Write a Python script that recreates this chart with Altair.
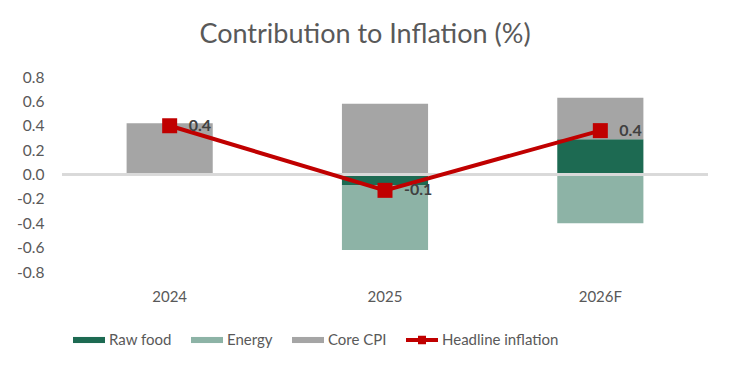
import altair as alt
import pandas as pd

years = ["2024", "2025", "2026F"]
raw_food = [0.01, -0.09, 0.29]
energy = [0.0, -0.53, -0.40]
core_cpi = [0.41, 0.58, 0.34]
headline = [0.40, -0.13, 0.36]
y_ticks = [-0.8, -0.6, -0.4, -0.2, 0.0, 0.2, 0.4, 0.6, 0.8]

series_names = ["Raw food", "Energy", "Core CPI", "Headline inflation"]
series_colors = ["#1D6A52", "#8DB3A6", "#A5A5A5", "#C00000"]

rows = []
for i, y in enumerate(years):
    for k, (name, vals) in enumerate(zip(series_names[:3], [raw_food, energy, core_cpi])):
        rows.append({"year": y, "series": name, "value": vals[i], "rank": k})
bars_df = pd.DataFrame(rows)
line_df = pd.DataFrame({"year": years, "series": "Headline inflation", "value": headline})

FONT = "Lato"
TXT = "#595959"

x_enc = alt.X("year:N", sort=years, title=None,
              scale=alt.Scale(paddingInner=0.6, paddingOuter=0.3),
              axis=alt.Axis(domain=False, ticks=False, labelAngle=0, labelPadding=17,
                            labelFont=FONT, labelFontSize=15, labelColor=TXT))
y_scale = alt.Scale(domain=[-0.8, 0.8], nice=False)
y_axis = alt.Axis(domain=False, ticks=False, grid=False, labelOverlap=False, tickCount=20,
                  values=y_ticks, format=".1f", labelPadding=18,
                  labelExpr="replace(datum.label, '\u2212', '-')",
                  labelFont=FONT, labelFontSize=15.5, labelColor=TXT)

shape_expr = ("datum.value == 'Headline inflation' ? "
              "'M-1,-0.13H-0.25V-0.27H0.25V-0.13H1V0.13H0.25V0.27H-0.25V0.13H-1Z' : "
              "'M-1,-0.19H1V0.19H-1Z'")

color_enc = alt.Color(
    "series:N",
    scale=alt.Scale(domain=series_names, range=series_colors),
    legend=alt.Legend(
        title=None, orient="none", direction="horizontal", columns=4,
        legendX=11, legendY=247,
        symbolSize=1024, symbolStrokeWidth=0, columnPadding=19, labelOffset=4,
        symbolType={"expr": shape_expr},
        symbolFillColor={"expr": "scale('color', datum.value)"},
        symbolOpacity=1,
        labelFont=FONT, labelFontSize=15, labelColor=TXT,
    ),
)

bars = alt.Chart(bars_df).mark_bar().encode(
    x=x_enc,
    y=alt.Y("value:Q", scale=y_scale, stack="zero", title=None, axis=y_axis),
    color=color_enc,
    order=alt.Order("rank:Q"),
)

zero = alt.Chart(bars_df).mark_rule(color="#D9D9D9", strokeWidth=2).encode(y=alt.datum(0))

line = alt.Chart(line_df).mark_line(strokeWidth=4).encode(
    x=alt.X("year:N", sort=years),
    y=alt.Y("value:Q", scale=y_scale, title=None, axis=y_axis),
    color=alt.Color("series:N"),
)
points = alt.Chart(line_df).mark_point(shape="square", filled=True, size=225, opacity=1).encode(
    x=alt.X("year:N", sort=years),
    y=alt.Y("value:Q", scale=y_scale, title=None, axis=y_axis),
    color=alt.Color("series:N"),
)
labels = alt.Chart(line_df).transform_calculate(
    lbl="replace(format(datum.value, '.1f'), '\u2212', '-')"
).mark_text(align="left", baseline="middle", dx=19, font=FONT,
            fontSize=16, fontWeight="bold", color="#404040").encode(
    x=alt.X("year:N", sort=years),
    y=alt.Y("value:Q", scale=y_scale, title=None, axis=y_axis),
    text=alt.Text("lbl:N"),
)

chart = alt.layer(bars, zero, line, points, labels).properties(
    width=646, height=195,
    autosize=alt.AutoSizeParams(type="none"),
    padding={"left": 54, "top": 69, "right": 15, "bottom": 90},
    title=alt.Title("Contribution to Inflation (%)", font=FONT, fontSize=27, fontWeight="normal",
                    color=TXT, anchor="middle", dx=-20, offset=21),
).configure_view(stroke=None).configure_axis(labelOverlap=False)

chart.save("out.html", embed_options={"renderer": "svg", "actions": False})
